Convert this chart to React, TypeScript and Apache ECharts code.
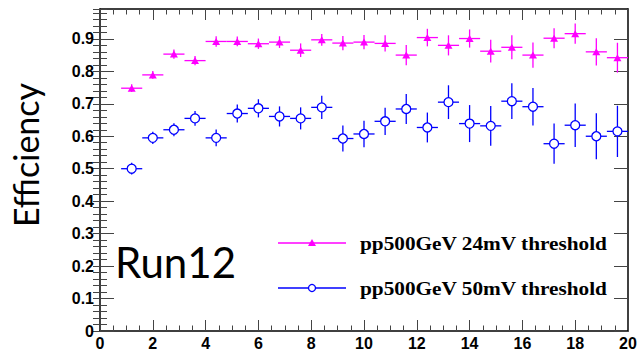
import React, { useEffect, useRef } from "react";
import * as echarts from "echarts";

// ---- data ----
const binCenters = [1.2, 2.0, 2.8, 3.6, 4.4, 5.2, 6.0, 6.8, 7.6, 8.4, 9.2, 10.0, 10.8, 11.6, 12.4, 13.2, 14.0, 14.8, 15.6, 16.4, 17.2, 18.0, 18.8, 19.6];
const binHalfWidth = [0.4, 0.4, 0.4, 0.4, 0.4, 0.4, 0.4, 0.4, 0.4, 0.4, 0.4, 0.4, 0.4, 0.4, 0.4, 0.4, 0.4, 0.4, 0.4, 0.4, 0.4, 0.4, 0.4, 0.4];

const eff24mV = [0.748, 0.789, 0.853, 0.833, 0.892, 0.892, 0.885, 0.890, 0.865, 0.897, 0.887, 0.890, 0.886, 0.850, 0.904, 0.880, 0.901, 0.862, 0.874, 0.850, 0.902, 0.916, 0.860, 0.842];
const err24mV = [0.012, 0.012, 0.014, 0.014, 0.016, 0.015, 0.016, 0.018, 0.021, 0.018, 0.022, 0.022, 0.025, 0.031, 0.027, 0.031, 0.028, 0.035, 0.037, 0.039, 0.031, 0.031, 0.042, 0.046];

const eff50mV = [0.500, 0.595, 0.620, 0.655, 0.595, 0.670, 0.686, 0.661, 0.655, 0.689, 0.593, 0.607, 0.646, 0.684, 0.627, 0.705, 0.639, 0.632, 0.708, 0.691, 0.577, 0.634, 0.600, 0.615];
const err50mV = [0.018, 0.019, 0.020, 0.023, 0.026, 0.028, 0.028, 0.031, 0.034, 0.036, 0.040, 0.041, 0.042, 0.046, 0.046, 0.052, 0.057, 0.061, 0.055, 0.058, 0.062, 0.067, 0.071, 0.079];

const seriesNames = ["pp500GeV 24mV threshold", "pp500GeV 50mV threshold"];
const yAxisTitle = "Efficiency";
const runLabel = "Run12";

const xMin = 0;
const xMax = 20;
const xMajor = 2;
const yMin = 0;
const yMax = 0.992;
const yMajor = 0.1;
const yMinor = 0.02;

const MAGENTA = "#ff00ff";
const BLUE = "#0000ff";

export default function App() {
  const ref = useRef<HTMLDivElement>(null);

  useEffect(() => {
    if (!ref.current) return;
    const chart = echarts.init(ref.current, null, { renderer: "svg" });

    const errData = (vals: number[], errs: number[]) =>
      binCenters.map((x, i) => [x, vals[i], binHalfWidth[i], errs[i]]);

    const errorRender = (color: string) => (params: any, api: any) => {
      const x = api.value(0);
      const y = api.value(1);
      const xe = api.value(2);
      const ye = api.value(3);
      const l = api.coord([x - xe, y]);
      const r = api.coord([x + xe, y]);
      const b = api.coord([x, y - ye]);
      const t = api.coord([x, y + ye]);
      const style = { stroke: color, lineWidth: 1.3 };
      return {
        type: "group",
        children: [
          { type: "line", shape: { x1: l[0], y1: l[1], x2: r[0], y2: r[1] }, style },
          { type: "line", shape: { x1: b[0], y1: b[1], x2: t[0], y2: t[1] }, style },
        ],
      };
    };

    const tickColor = "#444";
    const labelStyle = {
      color: "#000",
      fontFamily: "Liberation Sans, Arial, sans-serif",
      fontWeight: "bold" as const,
      fontSize: 16,
    };

    const xAxisBase = (pos: "bottom" | "top", labels: boolean) => ({
      type: "value",
      position: pos,
      min: xMin,
      max: xMax,
      interval: xMajor,
      axisLine: { show: true, onZero: false, lineStyle: { color: "#000", width: 1.5 } },
      axisTick: { show: true, inside: true, length: 11, lineStyle: { color: tickColor, width: 1 } },
      minorTick: { show: true, splitNumber: 4, length: 5.5, lineStyle: { color: tickColor, width: 1 } },
      splitLine: { show: false },
      axisLabel: labels ? { ...labelStyle, margin: 4 } : { show: false },
    });

    const yAxisBase = (pos: "left" | "right", major: boolean, labels: boolean) => ({
      type: "value",
      position: pos,
      min: yMin,
      max: yMax,
      interval: major ? yMajor : yMinor,
      axisLine: major
        ? { show: true, onZero: false, lineStyle: { color: "#000", width: 1.5 } }
        : { show: false },
      axisTick: { show: true, inside: true, length: major ? 14 : 7, lineStyle: { color: tickColor, width: 1 } },
      splitLine: { show: false },
      axisLabel: labels
        ? {
            ...labelStyle,
            margin: 6,
            showMaxLabel: false,
            formatter: (v: number) => (v === 0 ? "0" : v.toFixed(1)),
          }
        : { show: false },
    });

    const legendY = [243, 288];

    chart.setOption({
      animation: false,
      backgroundColor: "#fff",
      grid: { left: 100, right: 14, top: 9, bottom: 20, containLabel: false, outerBoundsMode: "none" },
      xAxis: [xAxisBase("bottom", true), xAxisBase("top", false)],
      yAxis: [
        yAxisBase("left", true, true),
        yAxisBase("left", false, false),
        yAxisBase("right", true, false),
        yAxisBase("right", false, false),
      ],
      series: [
        {
          type: "custom",
          name: seriesNames[0] + " err",
          xAxisIndex: 0,
          yAxisIndex: 0,
          renderItem: errorRender(MAGENTA),
          data: errData(eff24mV, err24mV),
          encode: { x: 0, y: 1 },
          z: 2,
        },
        {
          type: "custom",
          name: seriesNames[1] + " err",
          xAxisIndex: 0,
          yAxisIndex: 0,
          renderItem: errorRender(BLUE),
          data: errData(eff50mV, err50mV),
          encode: { x: 0, y: 1 },
          z: 2,
        },
        {
          type: "scatter",
          name: seriesNames[0],
          xAxisIndex: 0,
          yAxisIndex: 0,
          symbol: "triangle",
          symbolSize: [8, 7],
          itemStyle: { color: MAGENTA, opacity: 1 },
          data: binCenters.map((x, i) => [x, eff24mV[i]]),
          z: 3,
        },
        {
          type: "scatter",
          name: seriesNames[1],
          xAxisIndex: 0,
          yAxisIndex: 0,
          symbol: "circle",
          symbolSize: 9,
          itemStyle: { color: "#fff", borderColor: BLUE, borderWidth: 1.3, opacity: 1 },
          data: binCenters.map((x, i) => [x, eff50mV[i]]),
          z: 3,
        },
      ],
      graphic: [
        {
          type: "text",
          x: 25,
          y: 155,
          rotation: Math.PI / 2,
          style: {
            text: yAxisTitle,
            fill: "#000",
            font: "34px Lato, 'Open Sans', sans-serif",
            align: "center",
            verticalAlign: "middle",
          },
        },
        {
          type: "text",
          x: 115,
          y: 262,
          style: {
            text: runLabel,
            fill: "#000",
            font: "42px Lato, 'Open Sans', sans-serif",
            align: "left",
            verticalAlign: "middle",
          },
        },
        // legend entry 1
        { type: "line", shape: { x1: 278, y1: legendY[0], x2: 346, y2: legendY[0] }, style: { stroke: MAGENTA, lineWidth: 1.3 } },
        { type: "polygon", shape: { points: [[312, legendY[0] - 4], [316, legendY[0] + 3], [308, legendY[0] + 3]] }, style: { fill: MAGENTA } },
        {
          type: "text",
          x: 360,
          y: legendY[0],
          scaleX: 1.12,
          style: {
            text: seriesNames[0],
            fill: "#000",
            font: "bold 19px 'Liberation Serif', 'Times New Roman', serif",
            align: "left",
            verticalAlign: "middle",
          },
        },
        // legend entry 2
        { type: "line", shape: { x1: 278, y1: legendY[1], x2: 346, y2: legendY[1] }, style: { stroke: BLUE, lineWidth: 1.3 } },
        { type: "circle", shape: { cx: 312, cy: legendY[1], r: 3.5 }, style: { fill: "#fff", stroke: BLUE, lineWidth: 1.3 } },
        {
          type: "text",
          x: 360,
          y: legendY[1],
          scaleX: 1.12,
          style: {
            text: seriesNames[1],
            fill: "#000",
            font: "bold 19px 'Liberation Serif', 'Times New Roman', serif",
            align: "left",
            verticalAlign: "middle",
          },
        },
      ],
    });

    return () => chart.dispose();
  }, []);

  return (
    <div
      ref={ref}
      style={{ position: "fixed", left: 0, top: 0, width: 642, height: 351, background: "#fff" }}
    />
  );
}
